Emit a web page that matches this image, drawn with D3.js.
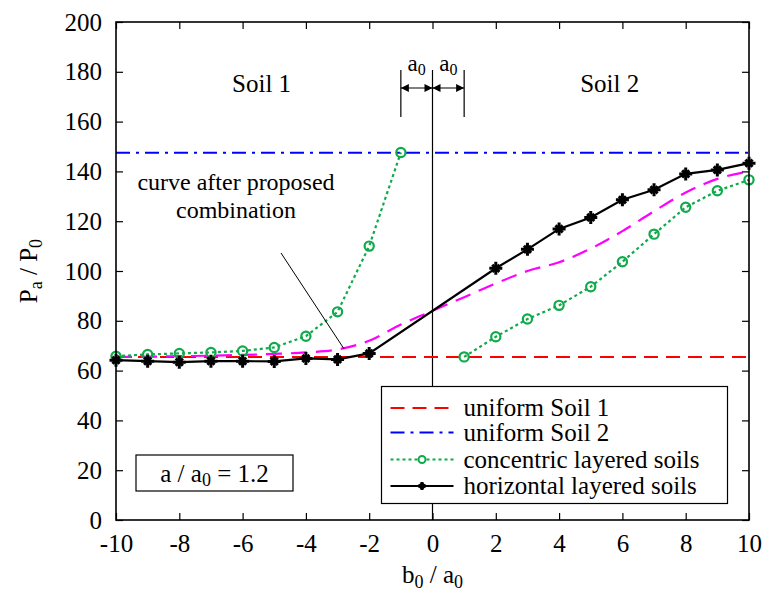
<!DOCTYPE html>
<html>
<head>
<meta charset="utf-8">
<script src="https://cdn.jsdelivr.net/npm/d3@7"></script>
<style>
  body { margin: 0; background: #fff; }
  svg text { font-family: "Liberation Serif", "Times New Roman", "DejaVu Serif", serif; fill: #000; }
</style>
</head>
<body>
<svg id="chart"></svg>
<script>
// uniform levels
var uniformSoil1 = 65.5;
var uniformSoil2 = 147.5;

// concentric layered soils (green circles), two branches
var concLeftX = [-10, -9, -8, -7, -6, -5, -4, -3, -2, -1];
var concLeftY = [65.8, 66.5, 66.9, 67.3, 67.9, 69.3, 73.8, 83.6, 110, 147.6];
var concRightX = [1, 2, 3, 4, 5, 6, 7, 8, 9, 10];
var concRightY = [65.5, 73.6, 80.7, 86.2, 93.7, 103.7, 114.8, 125.6, 132.2, 136.6];

// horizontal layered soils (black)
var horizX = [-10, -9, -8, -7, -6, -5, -4, -3, -2, 2, 3, 4, 5, 6, 7, 8, 9, 10];
var horizY = [64.2, 63.8, 63.4, 63.8, 63.8, 63.7, 64.9, 64.5, 66.9, 101.1, 108.7, 116.9, 121.5, 128.6, 132.6, 139, 140.6, 143.3];

// curve after proposed combination (magenta)
var combX = [-10, -9, -8, -7, -6, -5, -4, -3, -2, -1, 0, 1, 2, 3, 4, 5, 6, 7, 8, 9, 10];
var combY = [65.5, 65.6, 65.8, 66, 66.3, 66.7, 67.3, 68.5, 72, 78.5, 84, 89.5, 95, 100, 103.5, 109, 116, 124, 131.5, 137, 140];

var xTicks = [-10, -8, -6, -4, -2, 0, 2, 4, 6, 8, 10];
var yTicks = [0, 20, 40, 60, 80, 100, 120, 140, 160, 180, 200];

var legendLabels = ["uniform Soil 1", "uniform Soil 2", "concentric layered soils", "horizontal layered soils"];

var W = 765, H = 597;
var margin = { top: 22, right: 16, bottom: 77, left: 116 };
var width = W - margin.left - margin.right;
var height = H - margin.top - margin.bottom;

var svg = d3.select("#chart").attr("width", W).attr("height", H);
var g = svg.append("g").attr("transform", "translate(" + margin.left + "," + margin.top + ")");

var x = d3.scaleLinear().domain([-10, 10]).range([0, width]);
var y = d3.scaleLinear().domain([0, 200]).range([height, 0]);

var green = "#0faa4b", magenta = "#ff00ff";

// vertical line at x = 0
g.append("line")
    .attr("x1", x(0)).attr("x2", x(0))
    .attr("y1", 48).attr("y2", height)
    .attr("stroke", "#000").attr("stroke-width", 1.2);

// horizontal reference lines
g.append("line")
    .attr("x1", x(-10)).attr("x2", x(10))
    .attr("y1", y(uniformSoil1)).attr("y2", y(uniformSoil1))
    .attr("stroke", "#ff0000").attr("stroke-width", 2)
    .attr("stroke-dasharray", "14,8");
g.append("line")
    .attr("x1", x(-10)).attr("x2", x(10))
    .attr("y1", y(uniformSoil2)).attr("y2", y(uniformSoil2))
    .attr("stroke", "#0000ff").attr("stroke-width", 2)
    .attr("stroke-dasharray", "14,6,3,6");

var line = d3.line().x(function (d) { return x(d[0]); }).y(function (d) { return y(d[1]); });
var smooth = d3.line().curve(d3.curveMonotoneX).x(function (d) { return x(d[0]); }).y(function (d) { return y(d[1]); });

// magenta combination curve
g.append("path")
    .datum(d3.zip(combX, combY))
    .attr("d", smooth)
    .attr("fill", "none").attr("stroke", magenta).attr("stroke-width", 2.2)
    .attr("stroke-dasharray", "16,9");

// green branches
[d3.zip(concLeftX, concLeftY), d3.zip(concRightX, concRightY)].forEach(function (pts) {
    g.append("path")
        .datum(pts)
        .attr("d", line)
        .attr("fill", "none").attr("stroke", green).attr("stroke-width", 2.2)
        .attr("stroke-dasharray", "3,3");
    g.selectAll(null)
        .data(pts)
        .enter().append("circle")
        .attr("cx", function (d) { return x(d[0]); })
        .attr("cy", function (d) { return y(d[1]); })
        .attr("r", 4.6)
        .attr("fill", "none").attr("stroke", green).attr("stroke-width", 2.2);
});

// black horizontal layered
var horizPts = d3.zip(horizX, horizY);
g.append("path")
    .datum(horizPts)
    .attr("d", line)
    .attr("fill", "none").attr("stroke", "#000").attr("stroke-width", 2.2);

function starMark(sel, cx, cy, s) {
    sel.append("path")
        .attr("d", "M" + (cx - s) + "," + cy + "H" + (cx + s) + "M" + cx + "," + (cy - s) + "V" + (cy + s))
        .attr("stroke", "#000").attr("stroke-width", 3);
    var k = s * 0.55;
    sel.append("path")
        .attr("d", "M" + (cx - k) + "," + (cy - k) + "L" + (cx + k) + "," + (cy + k) + "M" + (cx - k) + "," + (cy + k) + "L" + (cx + k) + "," + (cy - k))
        .attr("stroke", "#000").attr("stroke-width", 3);
}
horizPts.forEach(function (d) { starMark(g, x(d[0]), y(d[1]), 6.5); });

// frame
g.append("rect")
    .attr("width", width).attr("height", height)
    .attr("fill", "none").attr("stroke", "#000").attr("stroke-width", 1.6);

// inward ticks on all sides
var tl = 7;
var axB = g.append("g").attr("transform", "translate(0," + height + ")")
    .call(d3.axisBottom(x).tickValues(xTicks).tickSizeInner(-tl).tickSizeOuter(0).tickPadding(14)
        .tickFormat(function (d) { return d; }));
var axT = g.append("g")
    .call(d3.axisTop(x).tickValues(xTicks).tickSizeInner(-tl).tickSizeOuter(0).tickFormat(""));
var axL = g.append("g")
    .call(d3.axisLeft(y).tickValues(yTicks).tickSizeInner(-tl).tickSizeOuter(0).tickPadding(14));
var axR = g.append("g").attr("transform", "translate(" + width + ",0)")
    .call(d3.axisRight(y).tickValues(yTicks).tickSizeInner(-tl).tickSizeOuter(0).tickFormat(""));
[axB, axT, axL, axR].forEach(function (a) {
    a.attr("font-family", null);
    a.select(".domain").remove();
    a.selectAll("line").attr("stroke", "#000").attr("stroke-width", 1.2);
    a.selectAll("text").attr("font-size", 25).attr("fill", "#000");
});

// region labels
g.append("text").attr("x", x(-5.4)).attr("y", 70).attr("text-anchor", "middle")
    .attr("font-size", 25).text("Soil 1");
g.append("text").attr("x", x(5.6)).attr("y", 70).attr("text-anchor", "middle")
    .attr("font-size", 25).text("Soil 2");

// a0 markers
[-1, 1].forEach(function (v) {
    g.append("line").attr("x1", x(v)).attr("x2", x(v)).attr("y1", 48).attr("y2", 95)
        .attr("stroke", "#000").attr("stroke-width", 1.2);
});
var defs = svg.append("defs");
defs.append("marker").attr("id", "arr").attr("viewBox", "0 0 10 10")
    .attr("refX", 10).attr("refY", 5).attr("markerWidth", 10).attr("markerHeight", 8)
    .attr("markerUnits", "userSpaceOnUse").attr("orient", "auto-start-reverse")
    .append("path").attr("d", "M0,0L10,5L0,10Z").attr("fill", "#000");
[[-1, 0], [0, 1]].forEach(function (p) {
    g.append("line").attr("x1", x(p[0])).attr("x2", x(p[1])).attr("y1", 66).attr("y2", 66)
        .attr("stroke", "#000").attr("stroke-width", 1.2)
        .attr("marker-start", "url(#arr)").attr("marker-end", "url(#arr)");
    var t = g.append("text").attr("x", (x(p[0]) + x(p[1])) / 2).attr("y", 49)
        .attr("text-anchor", "middle").attr("font-size", 23);
    t.append("tspan").text("a");
    t.append("tspan").attr("font-size", 16).attr("dy", 4).text("0");
});

// annotation
g.append("text").attr("x", 120).attr("y", 168).attr("text-anchor", "middle")
    .attr("font-size", 24).text("curve after proposed");
g.append("text").attr("x", 120).attr("y", 196).attr("text-anchor", "middle")
    .attr("font-size", 24).text("combination");
g.append("line").attr("x1", 165).attr("y1", 231).attr("x2", x(-2.8)).attr("y2", y(68.8))
    .attr("stroke", "#000").attr("stroke-width", 1);

// legend
var lg = g.append("g").attr("transform", "translate(" + (381.5 - margin.left) + "," + (386.5 - margin.top) + ")");
lg.append("rect").attr("width", 346).attr("height", 117)
    .attr("fill", "#fff").attr("stroke", "#000").attr("stroke-width", 1.2);
var rowY = [21.5, 46, 73, 99.5];
var styles = [
    { c: "#ff0000", dash: "14,8", mark: null },
    { c: "#0000ff", dash: "14,6,3,6", mark: null },
    { c: green, dash: "3,3", mark: "circle" },
    { c: "#000", dash: null, mark: "star" }
];
legendLabels.forEach(function (lab, i) {
    var st = styles[i];
    lg.append("line").attr("x1", 9).attr("x2", 72).attr("y1", rowY[i]).attr("y2", rowY[i])
        .attr("stroke", st.c).attr("stroke-width", 2)
        .attr("stroke-dasharray", st.dash);
    if (st.mark === "circle") {
        lg.append("circle").attr("cx", 40.5).attr("cy", rowY[i]).attr("r", 3.5)
            .attr("fill", "#fff").attr("stroke", green).attr("stroke-width", 2);
    } else if (st.mark === "star") {
        starMark(lg, 40.5, rowY[i], 4);
    }
    lg.append("text").attr("x", 82).attr("y", rowY[i] + 8).attr("font-size", 25).text(lab);
});

// a / a0 box
var bx = g.append("g").attr("transform", "translate(" + (136 - margin.left) + "," + (455 - margin.top) + ")");
bx.append("rect").attr("width", 157).attr("height", 36)
    .attr("fill", "#fff").attr("stroke", "#000").attr("stroke-width", 1.2);
var bt = bx.append("text").attr("x", 78.5).attr("y", 27).attr("text-anchor", "middle").attr("font-size", 25);
bt.append("tspan").text("a / a");
bt.append("tspan").attr("font-size", 18).attr("dy", 4).text("0");
bt.append("tspan").attr("dy", -4).text(" = 1.2");

// axis titles
var xt = svg.append("text").attr("x", margin.left + x(0)).attr("y", 583).attr("text-anchor", "middle").attr("font-size", 25);
xt.append("tspan").text("b");
xt.append("tspan").attr("font-size", 18).attr("dy", 5).text("0");
xt.append("tspan").attr("dy", -5).text(" / a");
xt.append("tspan").attr("font-size", 18).attr("dy", 5).text("0");

var yt = svg.append("text").attr("transform", "translate(37,271) rotate(-90)").attr("text-anchor", "middle").attr("font-size", 25);
yt.append("tspan").text("P");
yt.append("tspan").attr("font-size", 18).attr("dy", 5).text("a");
yt.append("tspan").attr("dy", -5).text(" / P");
yt.append("tspan").attr("font-size", 18).attr("dy", 5).text("0");
</script>
</body>
</html>
